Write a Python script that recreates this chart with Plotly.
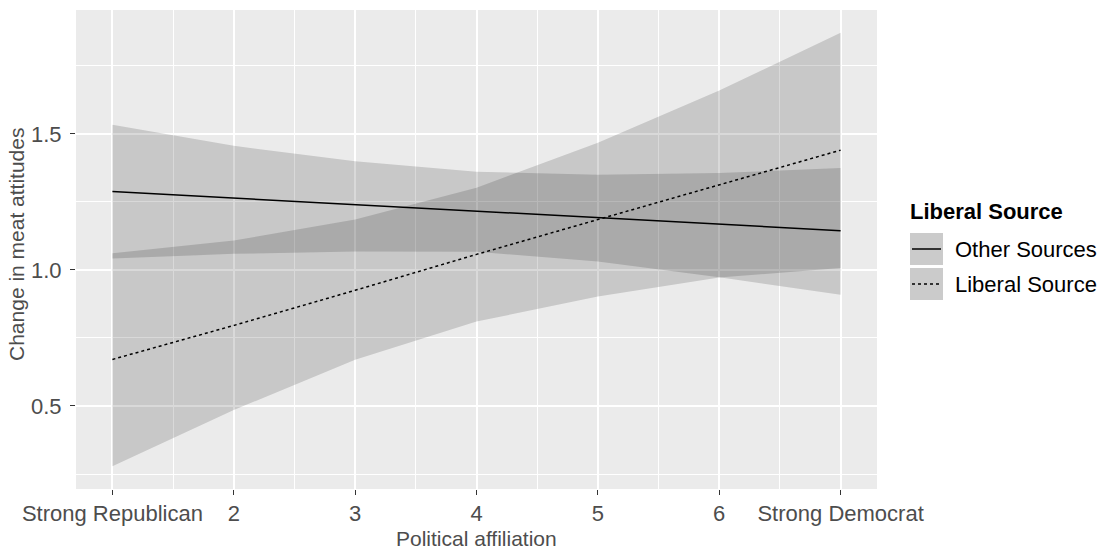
import plotly.graph_objects as go

# ---- data ----
x_vals = [1, 2, 3, 4, 5, 6, 7]
x_tick_labels = ["Strong Republican", "2", "3", "4", "5", "6", "Strong Democrat"]
y_tick_vals = [0.5, 1.0, 1.5]
y_tick_labels = ["0.5", "1.0", "1.5"]

other_fit = [1.288, 1.264, 1.240, 1.216, 1.192, 1.168, 1.144]
other_lower = [1.042, 1.059, 1.068, 1.067, 1.031, 0.973, 0.909]
other_upper = [1.533, 1.456, 1.399, 1.361, 1.350, 1.356, 1.374]

liberal_fit = [0.671, 0.796, 0.925, 1.057, 1.185, 1.312, 1.440]
liberal_lower = [0.279, 0.485, 0.670, 0.810, 0.902, 0.972, 1.007]
liberal_upper = [1.061, 1.108, 1.185, 1.302, 1.467, 1.659, 1.871]

series_names = ["Other Sources", "Liberal Source"]
legend_title = "Liberal Source"
x_title = "Political affiliation"
y_title = "Change in meat attitudes"

# ---- layout constants ----
W, H = 1102, 552
L, R, T, B = 76, 225, 10, 63
PW, PH = W - L - R, H - T - B
FONT = "Liberation Sans, Arial, sans-serif"
FS_TICK = 22
FS_TITLE = 21
RIBBON = "rgba(0,0,0,0.15)"


def px_x(px):
    return (px - L) / PW


def px_y(py):
    return (H - B - py) / PH


fig = go.Figure()

# ribbons
for lo, hi in [(other_lower, other_upper), (liberal_lower, liberal_upper)]:
    fig.add_trace(go.Scatter(x=x_vals, y=lo, mode="lines", line=dict(width=0),
                             hoverinfo="skip", showlegend=False))
    fig.add_trace(go.Scatter(x=x_vals, y=hi, mode="lines", line=dict(width=0),
                             fill="tonexty", fillcolor=RIBBON,
                             hoverinfo="skip", showlegend=False))

# fitted lines
fig.add_trace(go.Scatter(x=x_vals, y=other_fit, mode="lines", name=series_names[0],
                         line=dict(color="black", width=1.5), showlegend=False))
fig.add_trace(go.Scatter(x=x_vals, y=liberal_fit, mode="lines", name=series_names[1],
                         line=dict(color="black", width=1.5, dash="dot"), showlegend=False))

axis_common = dict(
    showline=False, zeroline=False,
    gridcolor="white", gridwidth=2,
    ticks="outside", ticklen=5, tickwidth=1.2, tickcolor="#333333",
    tickfont=dict(family=FONT, size=FS_TICK, color="#4D4D4D"),
)

fig.update_xaxes(
    range=[0.7, 7.3], tickmode="array", tickvals=x_vals, ticktext=x_tick_labels,
    minor=dict(tickmode="array", tickvals=[1.5, 2.5, 3.5, 4.5, 5.5, 6.5],
               showgrid=True, gridcolor="white", gridwidth=1),
    **axis_common,
)
fig.update_yaxes(
    range=[0.195, 1.955], tickmode="array", tickvals=y_tick_vals, ticktext=y_tick_labels,
    minor=dict(tickmode="array", tickvals=[0.25, 0.75, 1.25, 1.75],
               showgrid=True, gridcolor="white", gridwidth=1),
    ticklabelstandoff=4,
    **axis_common,
)

shapes = []
annotations = []

# axis titles
annotations.append(dict(text=x_title, xref="paper", yref="paper",
                        x=px_x(476), y=px_y(538), xanchor="center", yanchor="middle",
                        showarrow=False, font=dict(family=FONT, size=FS_TITLE, color="#4D4D4D")))
annotations.append(dict(text=y_title, xref="paper", yref="paper",
                        x=px_x(17), y=px_y(245), xanchor="center", yanchor="middle",
                        textangle=-90, showarrow=False,
                        font=dict(family=FONT, size=FS_TITLE, color="#4D4D4D")))

# manual legend
annotations.append(dict(text="<b>" + legend_title + "</b>", xref="paper", yref="paper",
                        x=px_x(908), y=px_y(212), xanchor="left", yanchor="middle",
                        showarrow=False, font=dict(family=FONT, size=FS_TICK, color="black")))
key_rows = [(233, 265, 249, "solid"), (268, 300, 284, "dot")]
for (y0, y1, yc, dash), name in zip(key_rows, series_names):
    shapes.append(dict(type="rect", xref="paper", yref="paper",
                       x0=px_x(910), x1=px_x(943), y0=px_y(y1), y1=px_y(y0),
                       fillcolor="#CBCBCB", line=dict(width=0)))
    shapes.append(dict(type="line", xref="paper", yref="paper",
                       x0=px_x(912), x1=px_x(941), y0=px_y(yc), y1=px_y(yc),
                       line=dict(color="black", width=1.5, dash=dash)))
    annotations.append(dict(text=name, xref="paper", yref="paper",
                            x=px_x(953), y=px_y(yc), xanchor="left", yanchor="middle",
                            showarrow=False, font=dict(family=FONT, size=FS_TICK, color="black")))

fig.update_layout(
    width=W, height=H, autosize=False,
    margin=dict(l=L, r=R, t=T, b=B, pad=0),
    paper_bgcolor="white", plot_bgcolor="#EBEBEB",
    showlegend=False,
    shapes=shapes, annotations=annotations,
    font=dict(family=FONT, size=FS_TICK),
)

fig.write_html("out.html", config={"displayModeBar": False},
               post_script="document.body.style.margin='0';document.body.style.overflow='hidden';")
